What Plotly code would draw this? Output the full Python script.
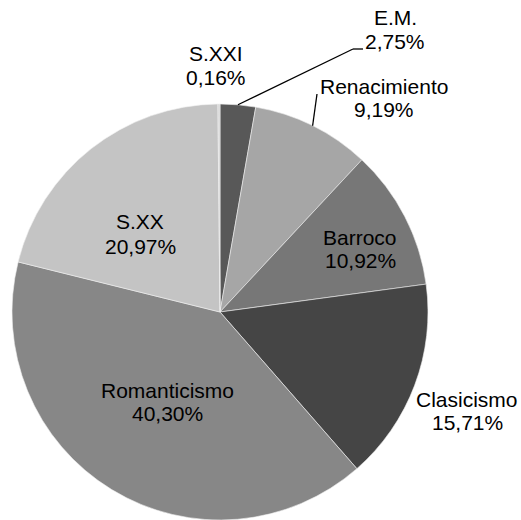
import math
import plotly.graph_objects as go

# ---- data ----
labels = ["E.M.", "Renacimiento", "Barroco", "Clasicismo", "Romanticismo", "S.XX", "S.XXI"]
values = [2.75, 9.19, 10.92, 15.71, 40.30, 20.97, 0.16]
pct_text = ["2,75%", "9,19%", "10,92%", "15,71%", "40,30%", "20,97%", "0,16%"]

# ---- styles / layout ----
colors = ["#585858", "#a6a6a6", "#777777", "#454545", "#878787", "#c4c4c4", "#d6d6d6"]
W, H = 521, 520
CX, CY, R = 220, 312, 208
FONT = "Liberation Sans, Arial, sans-serif"
FS = 21

# label placement in pixels: (center x, baseline line 1, baseline line 2)
label_pos = {
    "E.M.": (395, 25, 49),
    "Renacimiento": (384, 94, 117),
    "Barroco": (360, 245, 268),
    "Clasicismo": (467, 407, 430),
    "Romanticismo": (167, 398, 421),
    "S.XX": (140, 229, 254),
    "S.XXI": (216, 61, 85),
}
# leader line elbows (pixels) for labels placed away from their slice
leader_pts = {
    "E.M.": [(353, 49), (363, 49)],
    "Renacimiento": [(317, 94)],
}


def px2paper(x, y):
    return x / W, 1 - y / H


fig = go.Figure(
    go.Pie(
        labels=labels,
        values=values,
        sort=False,
        direction="clockwise",
        rotation=0,
        textinfo="none",
        hoverinfo="label+percent",
        marker=dict(colors=colors, line=dict(color="#f0f0f0", width=0.6)),
        domain=dict(x=[(CX - R) / W, (CX + R) / W], y=[1 - (CY + R) / H, 1 - (CY - R) / H]),
        showlegend=False,
    )
)

annotations = []
for name, pct in zip(labels, pct_text):
    x, b1, b2 = label_pos[name]
    for txt, base in ((name, b1), (pct, b2)):
        px, py = px2paper(x, base - 0.3465 * FS)
        annotations.append(
            dict(
                text=txt, x=px, y=py, xref="paper", yref="paper",
                xanchor="center", yanchor="middle", showarrow=False,
                font=dict(family=FONT, size=FS, color="#000000"),
            )
        )

# leader lines from slice mid-angle on the rim to the label
shapes = []
total = sum(values)
cum = 0.0
for name, v in zip(labels, values):
    mid = (cum + v / 2) / total * 2 * math.pi
    cum += v
    if name not in leader_pts:
        continue
    pts = [(CX + R * math.sin(mid), CY - R * math.cos(mid))] + leader_pts[name]
    for (x0, y0), (x1, y1) in zip(pts[:-1], pts[1:]):
        a0, b0 = px2paper(x0, y0)
        a1, b1_ = px2paper(x1, y1)
        shapes.append(
            dict(type="line", xref="paper", yref="paper", x0=a0, y0=b0, x1=a1, y1=b1_,
                 line=dict(color="#000000", width=1.3))
        )

fig.update_layout(
    width=W,
    height=H,
    margin=dict(l=0, r=0, t=0, b=0),
    paper_bgcolor="white",
    plot_bgcolor="white",
    annotations=annotations,
    shapes=shapes,
    font=dict(family=FONT, size=FS, color="#000000"),
)

fig.write_html(
    "out.html",
    config={"displayModeBar": False},
    post_script="document.body.style.margin='0';document.body.style.padding='0';document.body.style.overflow='hidden';",
)
